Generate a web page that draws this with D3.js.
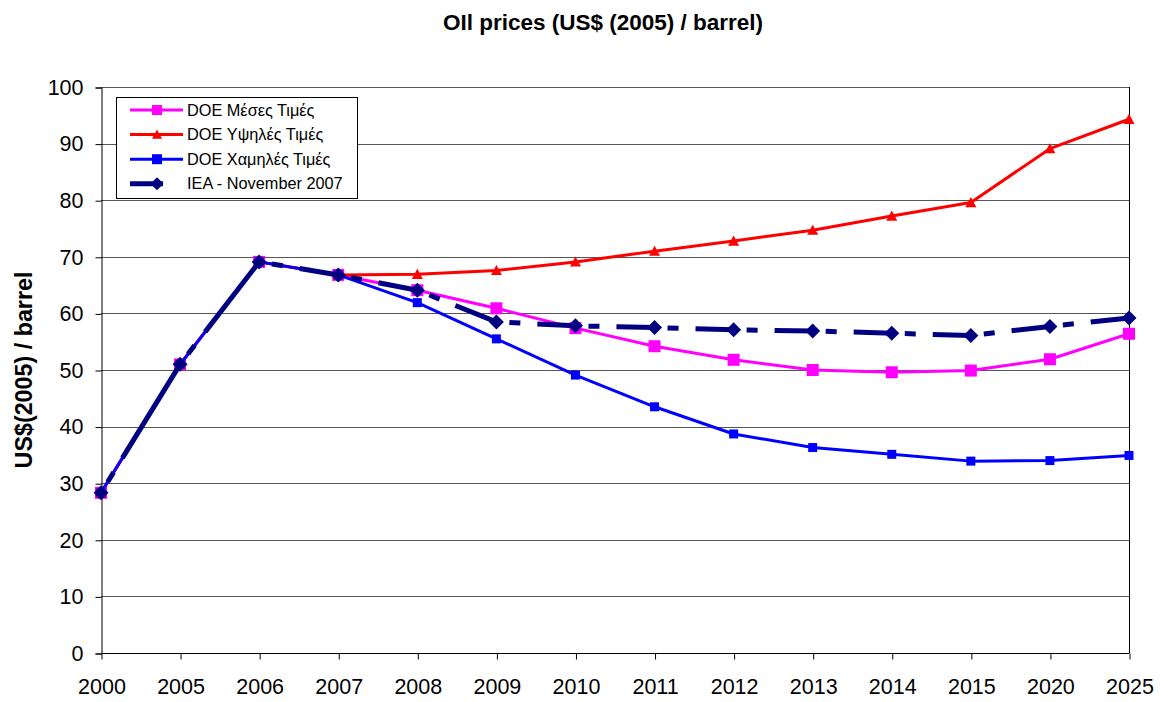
<!DOCTYPE html>
<html>
<head>
<meta charset="utf-8">
<script src="https://cdn.jsdelivr.net/npm/d3@7"></script>
<style>
  body { margin: 0; background: #fff; }
  svg { display: block; font-family: "Liberation Sans", Arial, sans-serif; }
</style>
</head>
<body>
<svg id="chart" width="1160" height="702"></svg>
<script>
// categories on the x axis (unequal years, equally spaced)
const years = ["2000","2005","2006","2007","2008","2009","2010","2011","2012","2013","2014","2015","2020","2025"];

// series values (US$ 2005 / barrel)
const doeMid  = [28.3, 51.0, 69.1, 66.8, 64.1, 60.9, 57.4, 54.2, 51.8, 50.0, 49.6, 49.9, 51.9, 56.4];
const doeHigh = [28.3, 51.0, 69.1, 66.8, 66.9, 67.6, 69.1, 71.0, 72.8, 74.7, 77.2, 79.6, 89.1, 94.3];
const doeLow  = [28.3, 51.0, 69.1, 66.8, 61.9, 55.5, 49.1, 43.5, 38.7, 36.3, 35.1, 33.9, 34.0, 34.9];
const iea     = [28.3, 51.0, 69.1, 66.8, 64.1, 58.5, 57.8, 57.5, 57.1, 56.9, 56.5, 56.1, 57.7, 59.2];

const yTicks = [0,10,20,30,40,50,60,70,80,90,100];

const series = [
  {name:"DOE Μέσες Τιμές", values:doeMid, color:"#ff00ff", width:3, marker:"square", size:12},
  {name:"DOE Υψηλές Τιμές", values:doeHigh, color:"#ff0000", width:3, marker:"triangle", size:11},
  {name:"DOE Χαμηλές Τιμές", values:doeLow, color:"#0000ff", width:3, marker:"square", size:9},
  {name:"IEA - November 2007", values:iea, color:"#000080", width:5, marker:"diamond", size:15, dashed:true}
];

const svg = d3.select("#chart");
const pLeft = 101, pRight = 1129, pTop = 87, pBottom = 653;

const x = d3.scalePoint().domain(years).range([pLeft, pRight]);
const y = d3.scaleLinear().domain([0, 100]).range([pBottom, pTop]);

// title
svg.append("text")
  .attr("x", 603).attr("y", 30)
  .attr("text-anchor", "middle")
  .attr("font-size", 22.5).attr("font-weight", "bold")
  .text("OIl prices (US$ (2005) / barrel)");

// y axis title
svg.append("text")
  .attr("transform", `translate(32,370) rotate(-90)`)
  .attr("text-anchor", "middle")
  .attr("font-size", 23.3).attr("font-weight", "bold")
  .text("US$(2005) / barrel");

// gridlines
svg.append("g").selectAll("line")
  .data(yTicks.filter(d => d > 0))
  .join("line")
  .attr("x1", pLeft).attr("x2", pRight)
  .attr("y1", d => Math.round(y(d)) + 0.5).attr("y2", d => Math.round(y(d)) + 0.5)
  .attr("stroke", "#555").attr("stroke-width", 1);

// right border of plot area
svg.append("line")
  .attr("x1", pRight + 0.5).attr("x2", pRight + 0.5)
  .attr("y1", pTop).attr("y2", pBottom)
  .attr("stroke", "#000");

// axes
const yAxis = svg.append("g")
  .attr("transform", `translate(${pLeft + 0.5},0.5)`)
  .call(d3.axisLeft(y).tickValues(yTicks).tickSize(6).tickPadding(12));
const xAxis = svg.append("g")
  .attr("transform", `translate(0.5,${pBottom + 0.5})`)
  .call(d3.axisBottom(x).tickSize(6).tickPadding(19));

[yAxis, xAxis].forEach(g => {
  g.select(".domain").attr("stroke", "#000");
  g.selectAll(".tick line").attr("stroke", "#000");
  g.selectAll(".tick text")
    .attr("font-size", 21.5)
    .attr("font-family", "Liberation Sans, Arial, sans-serif")
    .attr("fill", "#000");
});
xAxis.select(".domain").attr("d", `M${pLeft},0H${pRight}`);

function markerPath(type, s) {
  const h = s / 2;
  if (type === "square") return `M${-h},${-h}h${s}v${s}h${-s}Z`;
  if (type === "triangle") return `M0,${-h}L${h},${h*0.85}L${-h},${h*0.85}Z`;
  if (type === "diamond") return `M0,${-h}L${h},0L0,${h}L${-h},0Z`;
}

const line = d3.line().x((d, i) => x(years[i])).y(d => y(d));
const plot = svg.append("g");

series.forEach(s => {
  const g = plot.append("g");
  if (s.dashed) {
    // each segment starts with a gap, a short dash, a gap, then a long dash
    for (let i = 0; i < s.values.length - 1; i++) {
      g.append("line")
        .attr("x1", x(years[i])).attr("y1", y(s.values[i]))
        .attr("x2", x(years[i+1])).attr("y2", y(s.values[i+1]))
        .attr("stroke", s.color).attr("stroke-width", s.width)
        .attr("stroke-dasharray", "0 13 11 17 200");
    }
  } else {
    g.append("path")
      .attr("d", line(s.values))
      .attr("fill", "none")
      .attr("stroke", s.color).attr("stroke-width", s.width)
      .attr("stroke-linejoin", "round");
  }
  g.selectAll("path.m")
    .data(s.values)
    .join("path")
    .attr("class", "m")
    .attr("transform", (d, i) => `translate(${x(years[i])},${y(d)})`)
    .attr("d", markerPath(s.marker, s.size))
    .attr("fill", s.color);
});

// legend
const lg = svg.append("g");
lg.append("rect")
  .attr("x", 116.5).attr("y", 97.5).attr("width", 241).attr("height", 101)
  .attr("fill", "#fff").attr("stroke", "#000");
series.forEach((s, i) => {
  const ly = 110 + i * 24.6;
  lg.append("line")
    .attr("x1", 130).attr("x2", s.dashed ? 163 : 183)
    .attr("y1", ly).attr("y2", ly)
    .attr("stroke", s.color).attr("stroke-width", s.width);
  lg.append("path")
    .attr("transform", `translate(157,${ly})`)
    .attr("d", markerPath(s.marker, s.dashed ? 13 : 10))
    .attr("fill", s.color);
  lg.append("text")
    .attr("x", 187).attr("y", ly + 5.5)
    .attr("font-size", 16.3)
    .text(s.name);
});
</script>
</body>
</html>
